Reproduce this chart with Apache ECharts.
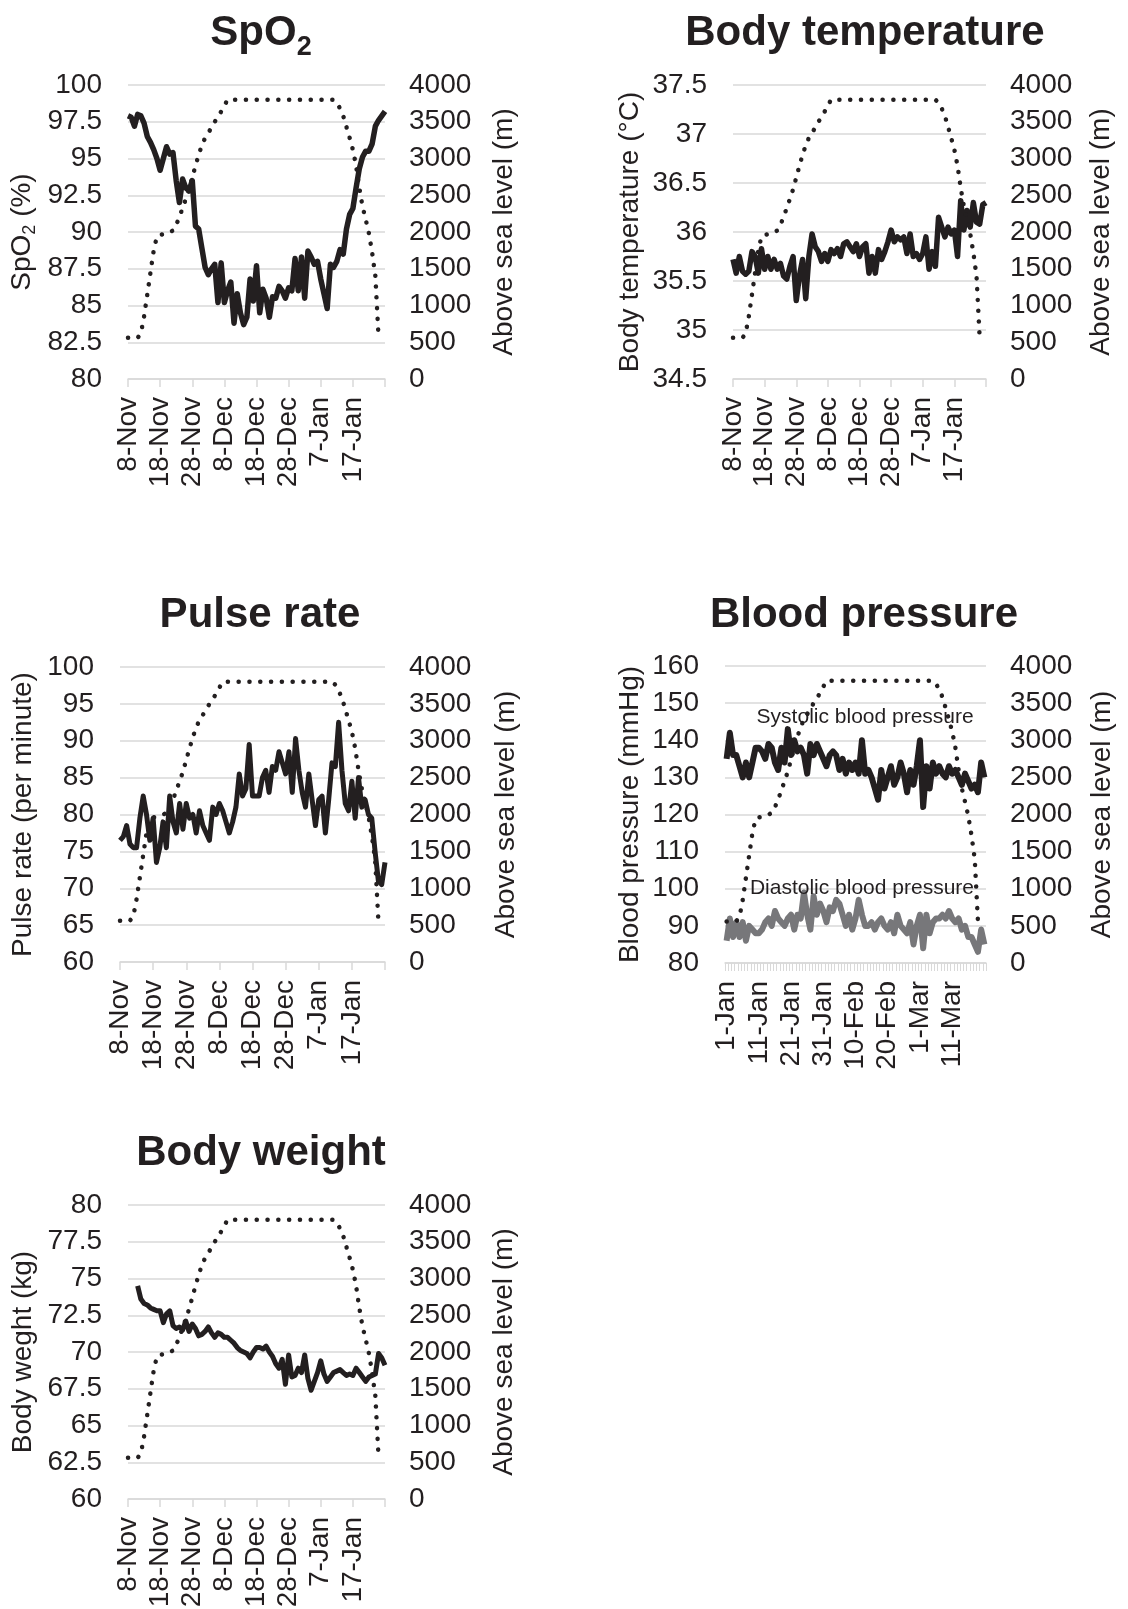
<!DOCTYPE html>
<html>
<head>
<meta charset="utf-8">
<script src="https://cdn.jsdelivr.net/npm/echarts@6/dist/echarts.min.js"></script>
<style>
  html, body { margin: 0; padding: 0; background: #fff; }
  #chart { width: 1128px; height: 1609px; }
</style>
</head>
<body>
<div id="chart"></div>
<script>
const FONT = "'Liberation Sans', Arial, sans-serif";
const TXT = '#231f20';
const GRIDC = '#d9d9d9';
const MONTHS = ['Jan','Feb','Mar','Apr','May','Jun','Jul','Aug','Sep','Oct','Nov','Dec'];

// daily category labels like "8-Nov"
function dayLabels(y, m, d, n) {
  const out = [];
  for (let i = 0; i < n; i++) {
    const dt = new Date(Date.UTC(y, m, d + i));
    out.push(dt.getUTCDate() + '-' + MONTHS[dt.getUTCMonth()]);
  }
  return out;
}
const novDays = dayLabels(2015, 10, 8, 81);
const bpDays = dayLabels(2016, 0, 1, 81);

// altitude above sea level (m), same trek in every panel
const altitude = [560,560,560,560,620,850,1150,1450,1750,1940,
  1960,1970,1990,2000,2020,2100,2200,2330,2450,2580,
  2740,2900,3050,3180,3280,3350,3420,3500,3560,3640,
  3720,3800,3800,3800,3800,3800,3800,3800,3800,3800,
  3800,3800,3800,3800,3800,3800,3800,3800,3800,3800,
  3800,3800,3800,3800,3800,3800,3800,3800,3800,3800,
  3800,3800,3800,3800,3800,3760,3680,3580,3430,3280,
  3120,2900,2600,2350,2170,1980,1720,1400,560];

const spo2 = [97.9,97.8,97.2,98.0,97.9,97.4,96.5,96.1,95.6,95.0,
  94.2,95.0,95.8,95.3,95.4,93.5,92.0,93.6,93.0,92.8,
  93.5,90.4,90.2,88.9,87.6,87.1,87.5,87.8,85.2,87.9,
  85.2,86.0,86.6,83.8,85.8,84.5,83.7,84.2,86.8,85.3,
  87.7,84.5,86.1,85.5,84.2,85.6,85.5,86.3,86.0,85.5,
  86.2,86.0,88.2,86.0,88.3,85.5,88.7,88.3,87.8,88.0,
  86.8,85.8,84.8,87.8,87.6,88.0,88.8,88.5,90.2,91.2,
  91.6,93.0,94.3,95.1,95.5,95.5,96.0,97.2,97.6,97.9,98.2];

const bodyTemp = [35.72,35.58,35.75,35.60,35.57,35.60,35.80,35.75,35.58,35.83,
  35.62,35.75,35.62,35.72,35.62,35.68,35.55,35.52,35.65,35.75,
  35.30,35.55,35.72,35.32,35.75,35.98,35.85,35.80,35.70,35.78,
  35.70,35.82,35.78,35.83,35.75,35.88,35.90,35.85,35.80,35.88,
  35.75,35.85,35.88,35.58,35.75,35.58,35.82,35.72,35.80,35.90,
  36.02,35.90,35.95,35.92,35.95,35.78,35.98,35.75,35.78,35.72,
  35.78,35.95,35.62,35.80,35.65,36.15,36.05,35.95,36.05,35.98,
  36.02,35.75,36.32,36.02,36.22,36.05,36.30,36.10,36.08,36.28,36.30];

const pulse = [76.5,77,78.5,76,75.5,75.5,79.5,82.5,80,76.5,
  79.5,73.5,75.5,79,75.5,82.5,79,77.5,81.5,78,
  81.5,79.5,80,77.5,80.5,78.5,77.5,76.5,81,80,
  81.5,80.5,79,77.5,79,81,85.5,82.5,83.5,89.5,
  82.5,82.5,82.5,85,86,83,86.5,86,88.5,87,
  85.5,88.5,83,90.3,86,83,81,85.5,82,78.5,
  82,82.5,77.5,82,87,86.5,92.5,86,81.5,80.5,
  84.5,79.5,85,81,82,80,79.5,75,71,70.5,73.5];

const systolic = [135,142,136,136,133,130,134,130,134,138,
  138,137,135,139,138,134,132,138,134,143,
  136,140,137,138,136,131,139,136,139,137,
  135,133,136,137,136,132,135,131,134,132,
  134,131,140,131,132,130,127,124,132,127,
  130,133,128,130,134,131,126,132,128,133,
  140,122,133,127,134,131,133,131,130,133,
  131,132,130,128,131,129,127,128,126,134,130];

const diastolic = [86,92,87,91,87,91,86,90,89,88,
  88,89,91,92,90,94,92,91,90,92,
  93,89,93,92,99,93,89,98,93,96,
  94,91,95,94,97,96,93,90,93,89,
  92,97,93,90,90,91,89,91,92,90,
  89,91,88,93,90,89,88,91,85,90,
  93,84,93,88,91,92,92,93,92,94,
  92,91,92,89,90,87,87,85,83,89,85];

const bodyWeight = [null,null,null,74.5,73.6,73.3,73.2,73.0,72.9,72.8,
  72.8,72.0,72.6,72.8,71.8,71.6,71.7,71.5,72.1,71.4,
  71.9,71.6,71.1,71.2,71.4,71.7,71.3,71.0,71.3,71.2,
  71.0,71.0,70.8,70.6,70.3,70.1,70.0,69.9,69.6,70.0,
  70.3,70.3,70.2,70.4,70.0,69.7,69.2,68.9,69.5,67.8,
  69.8,68.3,68.4,68.9,68.6,69.8,68.2,67.4,68.0,68.6,
  69.4,68.5,68.0,68.3,68.6,68.7,68.8,68.6,68.4,68.5,
  68.4,68.9,68.6,68.3,68.0,68.3,68.4,68.5,69.9,69.6,69.1];

// [min, max, interval] of each left axis
const spo2Range = [80, 100, 2.5];
const tempRange = [34.5, 37.5, 0.5];
const pulseRange = [60, 100, 5];
const bpRange = [80, 160, 10];
const weightRange = [60, 80, 2.5];
const altRange = [0, 4000, 500];

const grids = [
  { left: 128, top: 85, width: 257, height: 294 },
  { left: 733, top: 85, width: 253, height: 294 },
  { left: 120, top: 667, width: 265, height: 295 },
  { left: 725, top: 666, width: 261, height: 297 },
  { left: 128, top: 1205, width: 257, height: 294 }
];

function xCat(gridIndex, data, boxed) {
  return {
    type: 'category', gridIndex, data, boundaryGap: boxed,
    axisLine: { lineStyle: { color: GRIDC, width: 1.5 } },
    axisTick: {
      show: true, length: 8,
      interval: boxed ? 0 : (i) => i % 10 === 0,
      lineStyle: { color: GRIDC, width: boxed ? 1 : 1.5 }
    },
    axisLabel: {
      interval: (i) => i % 10 === 0 && i < 80,
      rotate: 90, margin: 18, fontSize: 28, color: TXT, fontFamily: FONT
    },
    splitLine: { show: false }
  };
}

const nameRich = {
  a: { fontSize: 28, color: TXT, fontFamily: FONT },
  s: { fontSize: 18, color: TXT, fontFamily: FONT, padding: [15, 0, 0, 0] }
};

function yLeft(gridIndex, range, name, gap) {
  return {
    type: 'value', gridIndex, position: 'left',
    min: range[0], max: range[1], interval: range[2],
    name, nameLocation: 'middle', nameGap: gap, nameRotate: 90,
    nameTextStyle: { fontSize: 28, color: TXT, fontFamily: FONT, rich: nameRich },
    axisLine: { show: false }, axisTick: { show: false },
    axisLabel: { fontSize: 28, color: TXT, fontFamily: FONT, margin: 26, formatter: (v) => String(v) },
    splitLine: { show: true, lineStyle: { color: GRIDC, width: 1.5 } }
  };
}

function yAlt(gridIndex, gap) {
  return {
    type: 'value', gridIndex, position: 'right',
    min: altRange[0], max: altRange[1], interval: altRange[2],
    name: 'Above sea level (m)', nameLocation: 'middle', nameGap: gap, nameRotate: 90,
    nameTextStyle: { fontSize: 28, color: TXT, fontFamily: FONT },
    axisLine: { show: false }, axisTick: { show: false },
    axisLabel: { fontSize: 28, color: TXT, fontFamily: FONT, margin: 24, formatter: (v) => String(v) },
    splitLine: { show: false }
  };
}

function line(i, data, color, width, extra) {
  return Object.assign({
    type: 'line', xAxisIndex: i, yAxisIndex: i * 2, data,
    symbol: 'none', showSymbol: false, connectNulls: false, z: 2,
    lineStyle: { color, width, join: 'round' }
  }, extra || {});
}

function altLine(i) {
  return {
    type: 'line', xAxisIndex: i, yAxisIndex: i * 2 + 1, data: altitude,
    symbol: 'none', showSymbol: false, z: 3,
    lineStyle: { color: TXT, width: 4.5, type: [0.1, 10.7], cap: 'round' }
  };
}

function note(text, cat, val) {
  return {
    symbol: 'circle', symbolSize: 1, silent: true,
    itemStyle: { color: 'rgba(0,0,0,0)' },
    label: { show: true, position: 'inside', formatter: '{b}', fontSize: 21, color: TXT, fontFamily: FONT },
    data: [{ name: text, coord: [cat, val] }]
  };
}

function title(text, x, y, rich) {
  return {
    type: 'text', x, y, silent: true,
    style: {
      text, fill: TXT, font: 'bold 42px ' + FONT,
      align: 'center', textAlign: 'center', verticalAlign: 'top', textVerticalAlign: 'top',
      rich: rich || undefined
    }
  };
}

const titleRich = {
  m: { fontSize: 42, fontWeight: 'bold', fontFamily: FONT, fill: TXT, color: TXT },
  s: { fontSize: 27, fontWeight: 'bold', fontFamily: FONT, fill: TXT, color: TXT, padding: [29, 0, 0, 0] }
};

const option = {
  animation: false,
  backgroundColor: '#fff',
  grid: grids.map(g => Object.assign({ containLabel: false, outerBoundsMode: 'none' }, g)),
  graphic: [
    title('{m|SpO}{s|2}', 261, 5, titleRich),
    title('Body temperature', 865, 12),
    title('Pulse rate', 260, 594),
    title('Blood pressure', 864, 594),
    title('Body weight', 261, 1132)
  ],
  xAxis: [
    xCat(0, novDays, false),
    xCat(1, novDays, false),
    xCat(2, novDays, false),
    xCat(3, bpDays, true),
    xCat(4, novDays, false)
  ],
  yAxis: [
    yLeft(0, spo2Range, '{a|SpO}{s|2}{a| (%)}', 89), yAlt(0, 105),
    yLeft(1, tempRange, 'Body temperature (°C)', 89), yAlt(1, 101),
    yLeft(2, pulseRange, 'Pulse rate (per minute)', 83), yAlt(2, 107),
    yLeft(3, bpRange, 'Blood pressure (mmHg)', 81), yAlt(3, 102),
    yLeft(4, weightRange, 'Body weght (kg)', 91), yAlt(4, 105)
  ],
  series: [
    line(0, spo2, TXT, 5.5), altLine(0),
    line(1, bodyTemp, TXT, 5.5), altLine(1),
    line(2, pulse, TXT, 5), altLine(2),
    line(3, diastolic, '#77777a', 6, { markPoint: note('Diastolic blood pressure', bpDays[42], 100.1) }),
    line(3, systolic, TXT, 6, { markPoint: note('Systolic blood pressure', bpDays[43], 146.3) }),
    altLine(3),
    line(4, bodyWeight, TXT, 5), altLine(4)
  ]
};

const chart = echarts.init(document.getElementById('chart'), null, { renderer: 'canvas' });
chart.setOption(option);
window.addEventListener('resize', () => chart.resize());
</script>
</body>
</html>
